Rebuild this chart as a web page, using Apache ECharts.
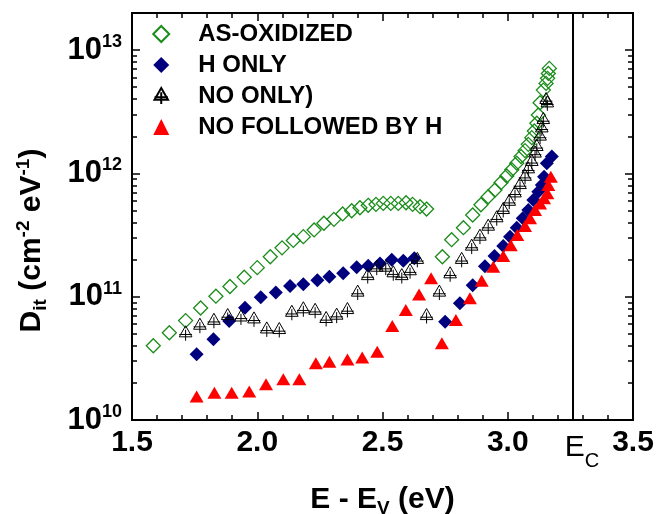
<!DOCTYPE html>
<html>
<head>
<meta charset="utf-8">
<script src="https://cdn.jsdelivr.net/npm/echarts@6/dist/echarts.min.js"></script>
<style>
  html, body { margin: 0; padding: 0; background: #fff; }
  #wrap { position: relative; width: 657px; height: 514px; }
  #chart, #frame { position: absolute; left: 0; top: 0; width: 657px; height: 514px; }
  #frame { pointer-events: none; }
</style>
</head>
<body>
<div id="wrap">
  <div id="chart"></div>
  <div id="frame"></div>
</div>
<script>
// energy axis (eV) and Dit (cm^-2 eV^-1)
const asOxE = [1.585, 1.649, 1.714, 1.774, 1.835, 1.891, 1.948, 2.000, 2.052, 2.099, 2.144, 2.184, 2.227, 2.266,
  2.306, 2.341, 2.377, 2.410, 2.443, 2.474, 2.503, 2.533, 2.563, 2.594, 2.620, 2.650, 2.676,
  2.739, 2.776, 2.823, 2.860, 2.893, 2.922, 2.949, 2.973, 2.996, 3.016, 3.036, 3.053, 3.069, 3.082,
  3.096, 3.106, 3.116, 3.122, 3.129, 3.142, 3.153, 3.159, 3.162, 3.166];
const asOxD = [4.0e10, 5.1e10, 6.4e10, 8.1e10, 1.01e11, 1.21e11, 1.44e11, 1.72e11, 2.11e11, 2.49e11, 2.86e11, 3.07e11, 3.48e11, 3.94e11,
  4.24e11, 4.69e11, 4.98e11, 5.27e11, 5.51e11, 5.61e11, 5.71e11, 5.71e11, 5.71e11, 5.78e11, 5.61e11, 5.37e11, 5.14e11,
  2.11e11, 2.9e11, 3.63e11, 4.6e11, 5.57e11, 6.47e11, 7.33e11, 8.41e11, 9.53e11, 1.07e12, 1.21e12, 1.37e12, 1.53e12, 1.72e12,
  1.95e12, 2.21e12, 2.55e12, 2.98e12, 3.74e12, 4.74e12, 5.37e12, 5.9e12, 6.47e12, 7.11e12];

const hOnlyE = [1.758, 1.825, 1.888, 1.951, 2.014, 2.074, 2.131, 2.184, 2.240, 2.288, 2.343, 2.397, 2.443, 2.490,
  2.537, 2.583, 2.627, 2.750, 2.809, 2.860, 2.909, 2.947, 2.982, 3.009, 3.036, 3.060, 3.082, 3.102,
  3.122, 3.136, 3.145, 3.156, 3.176];
const hOnlyD = [3.41e10, 4.51e10, 6.35e10, 8.15e10, 9.89e10, 1.08e11, 1.22e11, 1.26e11, 1.36e11, 1.45e11, 1.55e11, 1.73e11, 1.78e11, 1.86e11,
  1.99e11, 1.96e11, 2.05e11, 6.27e10, 8.83e10, 1.24e11, 1.77e11, 2.14e11, 2.58e11, 3.07e11, 3.63e11, 4.33e11, 5.05e11, 6.08e11,
  7.11e11, 8.05e11, 9.4e11, 1.21e12, 1.37e12];

const noOnlyE = [1.714, 1.771, 1.827, 1.882, 1.935, 1.987, 2.038, 2.088, 2.138, 2.184, 2.231, 2.275, 2.317, 2.360,
  2.401, 2.441, 2.477, 2.513, 2.543, 2.577, 2.610, 2.639, 2.676, 2.727, 2.770, 2.816, 2.856, 2.889,
  2.922, 2.956, 2.982, 3.006, 3.029, 3.049, 3.069, 3.082, 3.096, 3.109, 3.116, 3.129, 3.136, 3.142, 3.153, 3.158];
const noOnlyD = [5.05e10, 5.82e10, 6.38e10, 6.97e10, 6.79e10, 6.55e10, 5.43e10, 5.37e10, 7.41e10, 7.91e10, 7.69e10, 6.6e10, 7.02e10, 7.8e10,
  1.08e11, 1.47e11, 1.72e11, 1.72e11, 1.55e11, 1.47e11, 1.61e11, 1.99e11, 6.97e10, 1.08e11, 1.52e11, 1.99e11, 2.55e11, 3.07e11,
  3.7e11, 4.33e11, 5.05e11, 5.89e11, 6.89e11, 8.05e11, 9.4e11, 1.08e12, 1.24e12, 1.45e12, 1.64e12, 1.99e12, 2.32e12, 2.71e12, 3.94e12, 3.7e12];

const noThenHE = [1.758, 1.829, 1.898, 1.968, 2.035, 2.104, 2.168, 2.234, 2.288, 2.360, 2.419, 2.479, 2.539, 2.593,
  2.646, 2.694, 2.737, 2.793, 2.849, 2.896, 2.942, 2.982, 3.012, 3.038, 3.069, 3.089, 3.109, 3.129,
  3.145, 3.158, 3.162, 3.172];
const noThenHD = [1.55e10, 1.66e10, 1.66e10, 1.7e10, 1.95e10, 2.14e10, 2.14e10, 2.88e10, 2.97e10, 3.1e10, 3.22e10, 3.58e10, 5.78e10, 7.8e10,
  1.04e11, 1.41e11, 4.19e10, 6.47e10, 9.7e10, 1.35e11, 1.75e11, 2.14e11, 2.62e11, 3.16e11, 3.74e11, 4.33e11, 5.05e11, 5.71e11,
  6.28e11, 6.89e11, 8.05e11, 9.4e11];

const seriesNames = ['AS-OXIDIZED', 'H ONLY', 'NO ONLY)', 'NO FOLLOWED BY H'];
const EC = 3.26;
const yDecades = [10, 11, 12, 13];
const Y_MIN = 1e10;
const Y_MAX = 2e13;

const FONT = 'Liberation Sans, Arial, sans-serif';
const lg = Math.log10;
const GRID = { left: 132, right: 24, top: 13, bottom: 94, outerBoundsMode: 'none' };

// y axis works on log10 values; keep the ends to 3 decimals
const yLo = Math.round(lg(Y_MIN) * 1000) / 1000;
const yHi = Math.round(lg(Y_MAX) * 1000) / 1000;

const pairs = (xs, ys) => xs.map((x, i) => [x, lg(ys[i])]);

// log minor ticks (2..9 in each decade), strictly inside the axis range
const minorTicks = [];
for (let d = 10; d < 14; d++) {
  for (let k = 2; k <= 9; k++) {
    const v = Math.round((d + lg(k)) * 10000) / 10000;
    if (v < yHi - 0.001) minorTicks.push(v);
  }
}

const crossTri = 'path://M8,0L16,14L0,14Z M8,5L8,19 M0,11L16,11';
const tickLine = () => ({ color: '#000', width: 1.5 });
const frameLine = () => ({ show: true, onZero: false, lineStyle: { color: '#000', width: 2 } });

const xFrame = pos => ({
  type: 'value', position: pos, min: 1.5, max: 3.5, interval: 0.5,
  axisLine: frameLine(),
  axisTick: { show: true, inside: true, length: 8, lineStyle: tickLine() },
  minorTick: { show: true, splitNumber: 5, length: 5, lineStyle: tickLine() },
  axisLabel: { show: false },
  splitLine: { show: false }
});
const yFrame = (pos, values, len) => ({
  type: 'value', position: pos, min: yLo, max: yHi,
  axisLine: frameLine(),
  axisTick: { show: true, inside: true, length: len, customValues: values, lineStyle: tickLine() },
  axisLabel: { show: false },
  splitLine: { show: false }
});

// main chart: data, labels, names, legend, Ec line
const chart = echarts.init(document.getElementById('chart'));
chart.setOption({
  animation: false,
  grid: GRID,
  legend: {
    orient: 'vertical', left: 147, top: 17,
    itemWidth: 16, itemHeight: 16, itemGap: 7,
    selectedMode: false,
    data: seriesNames,
    textStyle: { fontFamily: FONT, fontSize: 24, fontWeight: 'bold', color: '#000', padding: [0, 0, 0, 24] }
  },
  xAxis: [Object.assign(xFrame('bottom'), {
    name: '{b|E - E}{sub|V}{b| (eV)}', nameLocation: 'middle', nameGap: 62,
    nameTextStyle: {
      rich: {
        b: { fontFamily: FONT, fontSize: 30, fontWeight: 'bold', color: '#000', lineHeight: 36 },
        sub: { fontFamily: FONT, fontSize: 19, fontWeight: 'bold', color: '#000', verticalAlign: 'bottom', lineHeight: 20 }
      }
    },
    axisLabel: { margin: 8, fontFamily: FONT, fontSize: 30, fontWeight: 'bold', color: '#000', formatter: v => v.toFixed(1) }
  }), xFrame('top')],
  yAxis: [Object.assign(yFrame('left', yDecades, 8), {
    name: '{b|D}{sub|it}{b| (cm}{sup|-2}{b| eV}{sup|-1}{b|)}',
    nameLocation: 'middle', nameRotate: 90, nameGap: 82,
    nameTextStyle: {
      padding: [0, 48, 0, 0],
      rich: {
        b: { fontFamily: FONT, fontSize: 30, fontWeight: 'bold', color: '#000', lineHeight: 36 },
        sub: { fontFamily: FONT, fontSize: 19, fontWeight: 'bold', color: '#000', verticalAlign: 'bottom', lineHeight: 20 },
        sup: { fontFamily: FONT, fontSize: 19, fontWeight: 'bold', color: '#000', verticalAlign: 'top', lineHeight: 20 }
      }
    },
    axisLabel: {
      customValues: yDecades, margin: 10,
      formatter: v => '{b|10}{s|' + Math.round(v) + '}',
      rich: {
        b: { fontFamily: FONT, fontSize: 31, fontWeight: 'bold', color: '#000', lineHeight: 34 },
        s: { fontFamily: FONT, fontSize: 18, fontWeight: 'bold', color: '#000', verticalAlign: 'top', lineHeight: 18 }
      }
    }
  }), yFrame('left', minorTicks, 5), yFrame('right', yDecades, 8), yFrame('right', minorTicks, 5)],
  series: [{
    name: seriesNames[0], type: 'scatter', symbol: 'diamond', symbolSize: 14,
    itemStyle: { color: 'transparent', borderColor: '#1a8c1a', borderWidth: 1.3, opacity: 1 },
    data: pairs(asOxE, asOxD),
    markLine: {
      silent: true, symbol: ['none', 'none'], animation: false,
      lineStyle: { color: '#000', width: 2, type: 'solid' },
      label: {
        show: true, position: 'start', distance: 5, padding: [0, 0, 0, 18],
        formatter: '{e|E}{c|C}',
        rich: {
          e: { fontFamily: FONT, fontSize: 30, color: '#000', lineHeight: 46 },
          c: { fontFamily: FONT, fontSize: 20, color: '#000', verticalAlign: 'bottom', lineHeight: 16 }
        }
      },
      emphasis: { disabled: true },
      data: [{ xAxis: EC }]
    }
  }, {
    name: seriesNames[1], type: 'scatter', symbol: 'diamond', symbolSize: 14,
    itemStyle: { color: '#00007f', opacity: 1 },
    data: pairs(hOnlyE, hOnlyD)
  }, {
    name: seriesNames[2], type: 'scatter', symbol: crossTri, symbolSize: 15, symbolKeepAspect: true,
    itemStyle: { color: 'none', borderColor: '#000', borderWidth: 1, opacity: 1 },
    data: pairs(noOnlyE, noOnlyD)
  }, {
    name: seriesNames[3], type: 'scatter', symbol: 'triangle', symbolSize: [14, 12],
    itemStyle: { color: '#ff0000', opacity: 1 },
    data: pairs(noThenHE, noThenHD)
  }]
});

// frame overlay: same grid and scales, box and inward ticks only
const frame = echarts.init(document.getElementById('frame'));
frame.setOption({
  animation: false,
  grid: GRID,
  xAxis: [xFrame('bottom'), xFrame('top')],
  yAxis: [yFrame('left', yDecades, 8), yFrame('left', minorTicks, 5), yFrame('right', yDecades, 8), yFrame('right', minorTicks, 5)],
  series: [{ type: 'scatter', silent: true, symbolSize: 0, data: [[2, 11]] }]
});
</script>
</body>
</html>
